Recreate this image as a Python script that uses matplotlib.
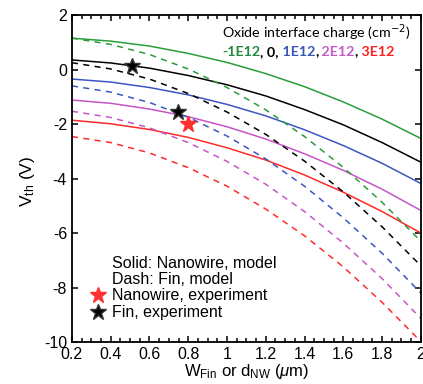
import numpy as np
import matplotlib
matplotlib.use('Agg')
import matplotlib.pyplot as plt

plt.rcParams['font.family'] = ['Liberation Sans', 'DejaVu Sans']
plt.rcParams['mathtext.fontset'] = 'custom'
plt.rcParams['mathtext.rm'] = 'Liberation Sans'
plt.rcParams['mathtext.it'] = 'Liberation Sans:italic'
plt.rcParams['axes.unicode_minus'] = False

# Datos (V_th en V)
w = [0.2, 0.4, 0.6, 0.8, 1.0, 1.2, 1.4, 1.6, 1.8, 2.0]

cargas = ['-1E12', '0', '1E12', '2E12', '3E12']
colores = ['#2a9d3a', '#000000', '#3d55c0', '#c555c8', '#ff2a2a']
colores_texto = ['#218a3c', '#000000', '#3a56b8', '#c25cc5', '#ff2020']

# Solido: nanowire, modelo
nw_m1 = [1.15, 1.04, 0.86, 0.59, 0.26, -0.15, -0.63, -1.19, -1.82, -2.53]
nw_0 = [0.35, 0.24, 0.05, -0.22, -0.56, -0.97, -1.47, -2.03, -2.68, -3.40]
nw_1 = [-0.35, -0.46, -0.66, -0.93, -1.28, -1.70, -2.21, -2.79, -3.44, -4.18]
nw_2 = [-1.12, -1.24, -1.45, -1.73, -2.10, -2.55, -3.09, -3.70, -4.39, -5.17]
nw_3 = [-1.86, -1.99, -2.20, -2.49, -2.87, -3.32, -3.87, -4.50, -5.21, -6.00]

# Dash: fin, modelo
fin_m1 = [1.15, 0.92, 0.55, 0.02, -0.66, -1.48, -2.46, -3.59, -4.87, -6.30]
fin_0 = [0.25, 0.02, -0.35, -0.88, -1.56, -2.38, -3.36, -4.49, -5.77, -7.20]
fin_1 = [-0.60, -0.83, -1.21, -1.75, -2.44, -3.28, -4.28, -5.44, -6.74, -8.20]
fin_2 = [-1.53, -1.76, -2.14, -2.68, -3.37, -4.21, -5.21, -6.37, -7.67, -9.13]
fin_3 = [-2.46, -2.68, -3.06, -3.60, -4.28, -5.12, -6.10, -7.24, -8.54, -9.98]

# Experimentos
nw_exp_x = [0.8]
nw_exp_y = [-2.0]
fin_exp_x = [0.51, 0.745]
fin_exp_y = [0.12, -1.57]

nanowire = [nw_m1, nw_0, nw_1, nw_2, nw_3]
fin = [fin_m1, fin_0, fin_1, fin_2, fin_3]

fig = plt.figure(figsize=(4.23, 3.84), dpi=100)
ax = fig.add_axes([0.170, 0.109, 0.825, 0.852])

for v, c in zip(nanowire, colores):
    ax.plot(w, v, color=c, lw=1.1)
for v, c in zip(fin, colores):
    ax.plot(w, v, color=c, lw=1.1, linestyle=(0, (4, 3.5)))

ax.plot(fin_exp_x, fin_exp_y, '*', color='black', markersize=12, markeredgecolor='#333333')
ax.plot(nw_exp_x, nw_exp_y, '*', color='#ff3030', markersize=12, markeredgecolor='#ff3030')

ax.set_xlim(0.2, 2)
ax.set_ylim(-10, 2)
xt = [0.2, 0.4, 0.6, 0.8, 1.0, 1.2, 1.4, 1.6, 1.8, 2.0]
ax.set_xticks(xt)
ax.set_xticklabels(['0.2', '0.4', '0.6', '0.8', '1', '1.2', '1.4', '1.6', '1.8', '2'])
ax.set_xticks(np.arange(0.2, 2.001, 0.05), minor=True)
ax.set_yticks([-10, -8, -6, -4, -2, 0, 2])
ax.tick_params(which='both', direction='in', top=True, right=True, labelsize=11.5, width=1.1)
ax.tick_params(which='major', length=4)
ax.tick_params(which='minor', length=3)
for s in ax.spines.values():
    s.set_linewidth(1.3)

ax.set_xlabel(r'W$_{\rm Fin}$ or d$_{\rm NW}$ ($\mu$m)', fontsize=12)
ax.xaxis.set_label_coords(0.5, -0.062)
ax.set_ylabel(r'V$_{\rm th}$ (V)', fontsize=12.5)
ax.yaxis.set_label_coords(-0.10, 0.49)

# Leyenda manual
ax.text(0.115, 0.239, 'Solid: Nanowire, model', fontsize=11.5, va='center', transform=ax.transAxes)
ax.text(0.115, 0.193, 'Dash: Fin, model', fontsize=11.5, va='center', transform=ax.transAxes)
ax.text(0.115, 0.144, 'Nanowire, experiment', fontsize=11.5, va='center', transform=ax.transAxes)
ax.text(0.115, 0.092, 'Fin, experiment', fontsize=11.5, va='center', transform=ax.transAxes)
ax.plot([0.0745], [0.144], '*', color='#ff3030', markersize=12, transform=ax.transAxes, clip_on=False)
ax.plot([0.0745], [0.092], '*', color='black', markersize=12, markeredgecolor='#333333',
        transform=ax.transAxes, clip_on=False)

# Texto de cargas con colores
ax.text(0.43, 0.945, r'Oxide interface charge (cm$^{\mathsf{-2}}$)', fontsize=10.3,
        family=['Lato', 'DejaVu Sans'], va='center', transform=ax.transAxes)
fig.canvas.draw()
renderer = fig.canvas.get_renderer()
partes = [(cargas[0], colores_texto[0]), (', ' + cargas[1] + ',', 'black'),
          (' ' + cargas[2], colores_texto[2]), (',', 'black'),
          (' ' + cargas[3], colores_texto[3]), (',', 'black'),
          (' ' + cargas[4], colores_texto[4])]
x = 0.43
for s, c in partes:
    t = ax.text(x, 0.887, s, color=c, fontsize=10.3, fontweight='bold',
                family=['Lato', 'DejaVu Sans'], va='center', transform=ax.transAxes)
    bb = t.get_window_extent(renderer)
    x = ax.transAxes.inverted().transform((bb.x1, bb.y0))[0]

fig.savefig('out.png', dpi=100)
